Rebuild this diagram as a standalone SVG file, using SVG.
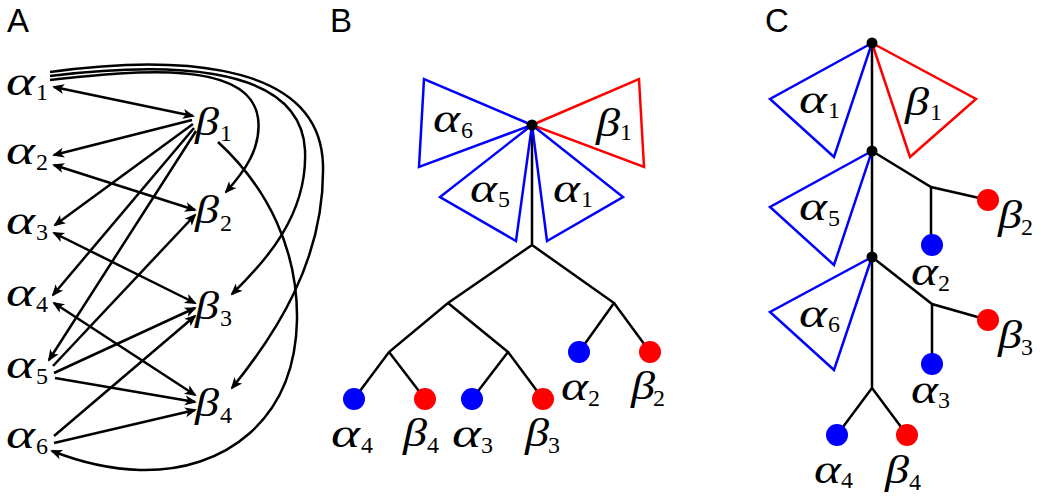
<svg xmlns="http://www.w3.org/2000/svg" width="1041" height="497" viewBox="0 0 1041 497">
<defs>
<style>
.panel{font-family:"Liberation Sans",Arial,sans-serif;font-size:33px;fill:#000}
.m{font-family:"Liberation Serif","Times New Roman",serif;font-style:italic;font-size:41px;fill:#000}
.s{font-family:"Liberation Serif","Times New Roman",serif;font-style:normal;font-size:24px;fill:#000}
.ln{fill:none;stroke:#000;stroke-width:2.5}
.ar{marker-end:url(#ah)}
.dar{marker-end:url(#ah);marker-start:url(#ah)}
.tb{fill:none;stroke:#0000ff;stroke-width:2.5;stroke-linejoin:miter}
.tr{fill:none;stroke:#ff0000;stroke-width:2.5;stroke-linejoin:miter}
.lb{fill:#0000ff}
.lr{fill:#ff0000}
</style>
<marker id="ah" viewBox="-12 -6 14 12" refX="0" refY="0" markerWidth="14" markerHeight="12" markerUnits="userSpaceOnUse" orient="auto-start-reverse">
<path d="M2,0 L-10,-5 L-7,0 L-10,5 Z" fill="#000"/>
</marker>
</defs>
<rect width="1041" height="497" fill="#fff"/>

<text class="panel" x="7" y="32">A</text>
<text class="panel" x="330" y="32">B</text>
<text class="panel" x="765" y="32">C</text>

<!-- Panel A nodes -->
<g id="A-a1"><text class="m" x="6" y="95" textLength="29" lengthAdjust="spacingAndGlyphs">α</text><text class="s" x="36" y="100">1</text></g>
<g id="A-a2"><text class="m" x="6" y="164" textLength="29" lengthAdjust="spacingAndGlyphs">α</text><text class="s" x="36" y="170">2</text></g>
<g id="A-a3"><text class="m" x="6" y="234" textLength="29" lengthAdjust="spacingAndGlyphs">α</text><text class="s" x="36" y="240">3</text></g>
<g id="A-a4"><text class="m" x="6" y="306" textLength="29" lengthAdjust="spacingAndGlyphs">α</text><text class="s" x="36" y="312">4</text></g>
<g id="A-a5"><text class="m" x="6" y="378" textLength="29" lengthAdjust="spacingAndGlyphs">α</text><text class="s" x="36" y="384">5</text></g>
<g id="A-a6"><text class="m" x="6" y="448" textLength="29" lengthAdjust="spacingAndGlyphs">α</text><text class="s" x="36" y="454">6</text></g>
<g id="A-b1"><text class="m" x="195" y="135" textLength="24" lengthAdjust="spacingAndGlyphs">β</text><text class="s" x="220" y="141">1</text></g>
<g id="A-b2"><text class="m" x="195" y="223" textLength="24" lengthAdjust="spacingAndGlyphs">β</text><text class="s" x="220" y="231">2</text></g>
<g id="A-b3"><text class="m" x="195" y="319" textLength="24" lengthAdjust="spacingAndGlyphs">β</text><text class="s" x="220" y="326">3</text></g>
<g id="A-b4"><text class="m" x="195" y="416" textLength="24" lengthAdjust="spacingAndGlyphs">β</text><text class="s" x="220" y="423">4</text></g>

<!-- Panel A connectors -->
<g id="A-connectors">
<line class="ln dar" x1="54" y1="87" x2="193" y2="116"/>
<line class="ln ar" x1="192" y1="120" x2="54" y2="155"/>
<line class="ln dar" x1="54" y1="165" x2="195" y2="210"/>
<line class="ln ar" x1="193" y1="124" x2="55" y2="225"/>
<line class="ln ar" x1="194" y1="128" x2="53" y2="295"/>
<line class="ln ar" x1="196" y1="131" x2="49" y2="360"/>
<line class="ln ar" x1="53" y1="366" x2="195" y2="215"/>
<line class="ln dar" x1="54" y1="233" x2="195" y2="303"/>
<line class="ln dar" x1="54" y1="303" x2="195" y2="395"/>
<line class="ln ar" x1="54" y1="373" x2="195" y2="308"/>
<line class="ln ar" x1="54" y1="436" x2="195" y2="316"/>
<line class="ln ar" x1="55" y1="378" x2="195" y2="402"/>
<line class="ln ar" x1="54" y1="443" x2="195" y2="410"/>
<path class="ln ar" d="M50,80 C140,70 250,60 258,118 C262,148 244,172 226,192"/>
<path class="ln ar" d="M50,76 C150,64 300,58 305,150 C308,215 265,262 232,294"/>
<path class="ln ar" d="M50,72 C150,58 320,52 323,165 C325,260 275,335 232,388"/>
<path class="ln ar" d="M218,142 C268,188 298,250 297,320 C295,420 225,472 140,470 C105,469 75,460 52,451"/>
</g>

<!-- Panel B -->
<g id="B-connectors">
<path class="ln" d="M532,125 V245 M532,245 L448,303 L389,352 L354,399 M389,352 L425,399 M448,303 L508,352 L472,399 M508,352 L543,399 M532,245 L614,303 L579,352 M614,303 L650,352"/>
</g>
<g id="B-a6"><polygon class="tb" points="532,125 424,79 419,167"/><text class="m" x="433" y="132" textLength="27" lengthAdjust="spacingAndGlyphs">α</text><text class="s" x="461" y="138">6</text></g>
<g id="B-b1"><polygon class="tr" points="532,125 639,79 644,167"/><text class="m" x="596" y="136" textLength="24" lengthAdjust="spacingAndGlyphs">β</text><text class="s" x="620" y="140">1</text></g>
<g id="B-a5"><polygon class="tb" points="532,125 440,197 516,241"/><text class="m" x="470" y="202" textLength="27" lengthAdjust="spacingAndGlyphs">α</text><text class="s" x="498" y="207">5</text></g>
<g id="B-a1"><polygon class="tb" points="532,125 623,197 547,241"/><text class="m" x="553" y="202" textLength="27" lengthAdjust="spacingAndGlyphs">α</text><text class="s" x="581" y="207">1</text></g>
<g id="B-root"><circle cx="532" cy="125" r="5.5" fill="#000"/></g>
<g id="B-la4"><circle class="lb" cx="354" cy="399" r="11"/><text class="m" x="331" y="447" textLength="29" lengthAdjust="spacingAndGlyphs">α</text><text class="s" x="361" y="453">4</text></g>
<g id="B-lb4"><circle class="lr" cx="425" cy="399" r="11"/><text class="m" x="403" y="446" textLength="24" lengthAdjust="spacingAndGlyphs">β</text><text class="s" x="427" y="453">4</text></g>
<g id="B-la3"><circle class="lb" cx="472" cy="399" r="11"/><text class="m" x="452" y="447" textLength="29" lengthAdjust="spacingAndGlyphs">α</text><text class="s" x="481" y="453">3</text></g>
<g id="B-lb3"><circle class="lr" cx="543" cy="399" r="11"/><text class="m" x="525" y="446" textLength="24" lengthAdjust="spacingAndGlyphs">β</text><text class="s" x="548" y="453">3</text></g>
<g id="B-la2"><circle class="lb" cx="579" cy="352" r="11"/><text class="m" x="561" y="400" textLength="27" lengthAdjust="spacingAndGlyphs">α</text><text class="s" x="588" y="406">2</text></g>
<g id="B-lb2"><circle class="lr" cx="650" cy="352" r="11"/><text class="m" x="631" y="399" textLength="24" lengthAdjust="spacingAndGlyphs">β</text><text class="s" x="653" y="406">2</text></g>

<!-- Panel C -->
<g id="C-connectors">
<path class="ln" d="M872,43 V388 M872,151 L931,187 L988,200 M931,187 V246 M872,257 L932,304 L988,320 M932,304 V364 M872,388 L837,435 M872,388 L907,435"/>
</g>
<g id="C-a1"><polygon class="tb" points="872,43 770,99 834,157"/><text class="m" x="799" y="113" textLength="28" lengthAdjust="spacingAndGlyphs">α</text><text class="s" x="828" y="118">1</text></g>
<g id="C-b1"><polygon class="tr" points="872,43 976,99 910,157"/><text class="m" x="905" y="115" textLength="24" lengthAdjust="spacingAndGlyphs">β</text><text class="s" x="930" y="120">1</text></g>
<g id="C-a5"><polygon class="tb" points="872,151 770,207 834,265"/><text class="m" x="799" y="220" textLength="28" lengthAdjust="spacingAndGlyphs">α</text><text class="s" x="828" y="226">5</text></g>
<g id="C-a6"><polygon class="tb" points="872,257 770,312 834,370"/><text class="m" x="799" y="327" textLength="28" lengthAdjust="spacingAndGlyphs">α</text><text class="s" x="828" y="332">6</text></g>
<g id="C-n1"><circle cx="872" cy="43" r="5.5" fill="#000"/></g>
<g id="C-n2"><circle cx="872" cy="151" r="5.5" fill="#000"/></g>
<g id="C-n3"><circle cx="872" cy="257" r="5.5" fill="#000"/></g>
<g id="C-la2"><circle class="lb" cx="932" cy="245" r="11"/><text class="m" x="911" y="285" textLength="27" lengthAdjust="spacingAndGlyphs">α</text><text class="s" x="938" y="291">2</text></g>
<g id="C-lb2"><circle class="lr" cx="988" cy="200" r="11"/><text class="m" x="998" y="228" textLength="24" lengthAdjust="spacingAndGlyphs">β</text><text class="s" x="1021" y="235">2</text></g>
<g id="C-la3"><circle class="lb" cx="932" cy="364" r="11"/><text class="m" x="911" y="403" textLength="27" lengthAdjust="spacingAndGlyphs">α</text><text class="s" x="938" y="408">3</text></g>
<g id="C-lb3"><circle class="lr" cx="988" cy="320" r="11"/><text class="m" x="998" y="348" textLength="24" lengthAdjust="spacingAndGlyphs">β</text><text class="s" x="1021" y="355">3</text></g>
<g id="C-la4"><circle class="lb" cx="837" cy="435" r="11"/><text class="m" x="814" y="483" textLength="27" lengthAdjust="spacingAndGlyphs">α</text><text class="s" x="841" y="488">4</text></g>
<g id="C-lb4"><circle class="lr" cx="907" cy="435" r="11"/><text class="m" x="885" y="483" textLength="24" lengthAdjust="spacingAndGlyphs">β</text><text class="s" x="909" y="490">4</text></g>
</svg>
